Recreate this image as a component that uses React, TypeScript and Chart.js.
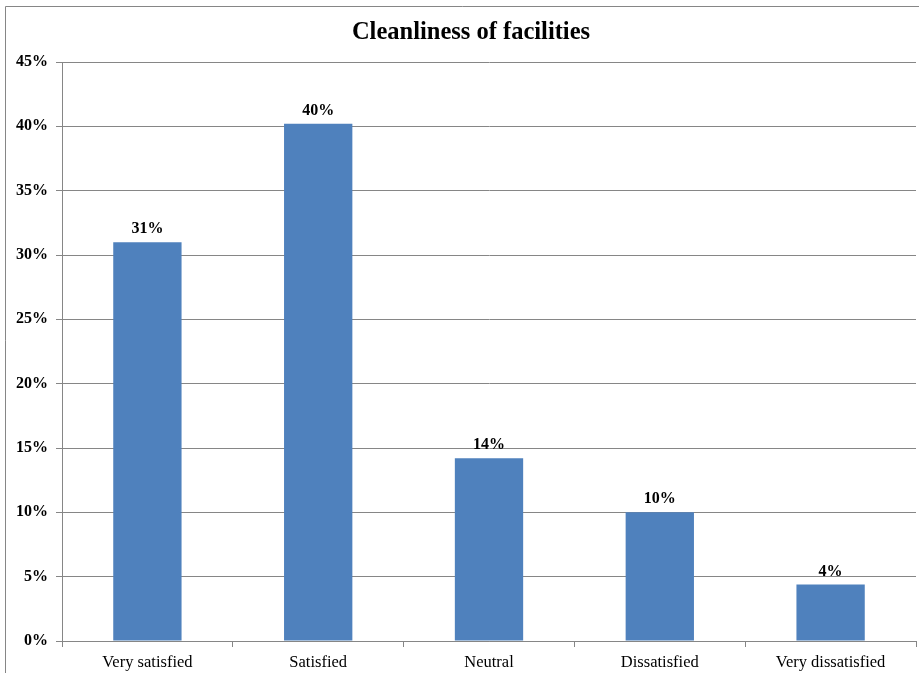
import React, { useEffect, useRef } from "react";
import { Chart, registerables } from "chart.js";

Chart.register(...registerables);

const categories = ["Very satisfied", "Satisfied", "Neutral", "Dissatisfied", "Very dissatisfied"];
const shares = [31, 40.2, 14.2, 10, 4.4];
const yTicks = [0, 5, 10, 15, 20, 25, 30, 35, 40, 45];
const chartTitle = "Cleanliness of facilities";

const SERIF = "'Liberation Serif', 'Times New Roman', serif";
const GRID = "#868686";
const BAR = "#4F81BD";

// Outer frame, title and value labels drawn directly on the canvas
const decorations = {
  id: "decorations",
  beforeDraw(chart: any) {
    const { ctx } = chart;
    ctx.save();
    ctx.strokeStyle = GRID;
    ctx.lineWidth = 1;
    ctx.beginPath();
    ctx.moveTo(5.5, chart.height + 5);
    ctx.lineTo(5.5, 6.5);
    ctx.lineTo(chart.width + 5, 6.5);
    ctx.stroke();
    ctx.restore();
  },
  afterDraw(chart: any) {
    const { ctx } = chart;
    ctx.save();
    ctx.fillStyle = "#000";
    ctx.textAlign = "center";
    ctx.textBaseline = "middle";
    ctx.font = `bold 24.5px ${SERIF}`;
    ctx.fillText(chartTitle, 471, 33);

    ctx.font = `bold 16px ${SERIF}`;
    ctx.textBaseline = "bottom";
    const meta = chart.getDatasetMeta(0);
    meta.data.forEach((bar: any, i: number) => {
      ctx.fillText(`${Math.round(shares[i])}%`, bar.x, bar.y - 5);
    });
    ctx.restore();
  },
};

export default function App() {
  const canvasRef = useRef<HTMLCanvasElement | null>(null);

  useEffect(() => {
    if (!canvasRef.current) return;
    const chart = new Chart(canvasRef.current, {
      type: "bar",
      data: {
        labels: categories,
        datasets: [
          {
            data: shares,
            backgroundColor: BAR,
            borderWidth: 0,
            barPercentage: 0.4,
            categoryPercentage: 1,
          },
        ],
      },
      options: {
        animation: false,
        responsive: false,
        maintainAspectRatio: false,
        layout: { padding: { top: 62, right: 3, bottom: 0, left: 0 } },
        plugins: {
          legend: { display: false },
          title: { display: false },
          tooltip: { enabled: false },
        },
        scales: {
          x: {
            grid: {
              display: true,
              drawOnChartArea: false,
              offset: true,
              tickLength: 6,
              color: GRID,
            },
            border: { color: GRID },
            ticks: {
              color: "#000",
              font: { family: SERIF, size: 16.5 },
              padding: 6,
              maxRotation: 0,
            },
            afterFit(scale: any) {
              scale.height = 32;
            },
          },
          y: {
            min: 0,
            max: 45,
            afterBuildTicks(scale: any) {
              scale.ticks = yTicks.map((v) => ({ value: v }));
            },
            grid: { color: GRID, tickLength: 6 },
            border: { color: GRID },
            ticks: {
              color: "#000",
              font: { family: SERIF, size: 16, weight: "bold" },
              padding: 8,
              callback: (v: any) => `${v}%`,
            },
            afterFit(scale: any) {
              scale.width = 62;
            },
          },
        },
      },
      plugins: [decorations],
    });
    return () => chart.destroy();
  }, []);

  return (
    <div style={{ position: "fixed", left: 0, top: 0, width: 919, height: 673, background: "#fff" }}>
      <canvas ref={canvasRef} width={919} height={673} style={{ display: "block" }} />
    </div>
  );
}
